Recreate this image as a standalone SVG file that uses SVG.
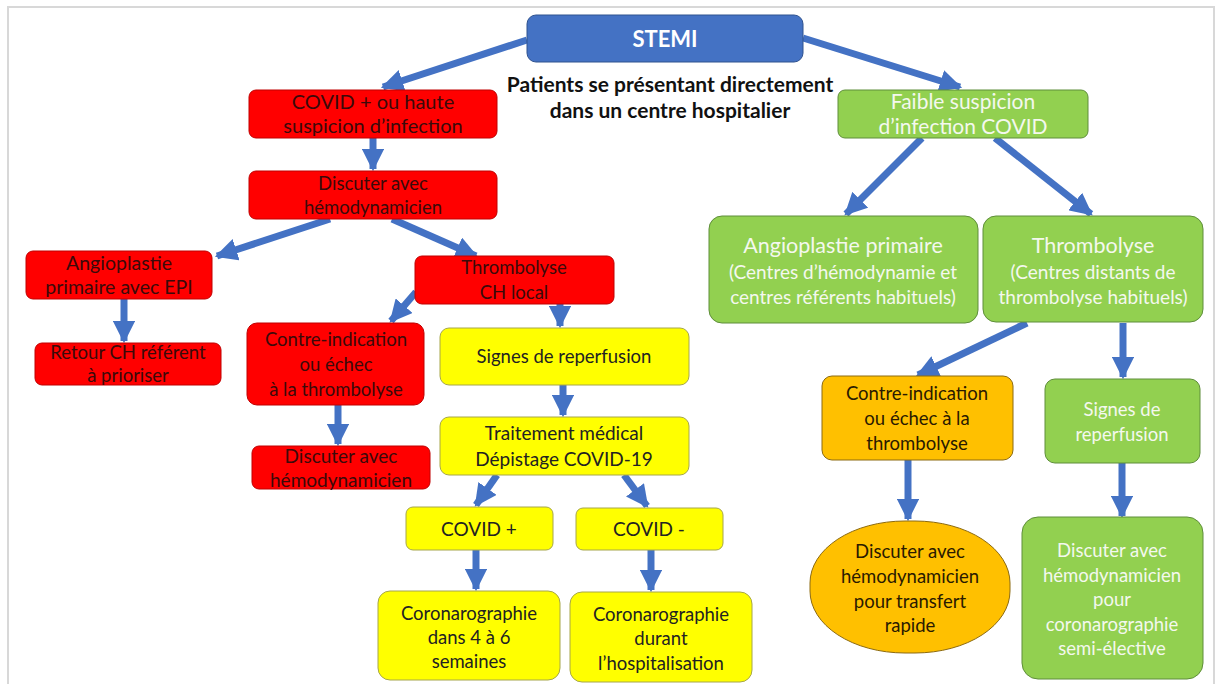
<svg xmlns="http://www.w3.org/2000/svg" width="1221" height="684" viewBox="0 0 1221 684">
<defs>
<marker id="ah" viewBox="0 0 10 10" refX="9" refY="5" markerWidth="3.2" markerHeight="3.2" orient="auto" markerUnits="strokeWidth">
<path d="M0,0 L10,5 L0,10 z" fill="#4472C4"/>
</marker>
<style>
text{font-family:Lato,"Open Sans","Liberation Sans",sans-serif;text-anchor:middle;font-size:18.5px}
text.s19{font-size:19px}
text.s195{font-size:19.5px}
text.s20{font-size:20px}
text.s21{font-size:21px}
text.s215{font-size:21.5px}
text.s22{font-size:22px}
.red rect{fill:#FF0000;stroke:#C00000;stroke-width:1}
.red text{fill:#3a0a0a}
.yel rect{fill:#FFFF00;stroke:#A6A64A;stroke-width:1}
.yel text{fill:#222}
.grn rect{fill:#92D050;stroke:#5E8E3A;stroke-width:1}
.grn text{fill:#F4F8EE}
.org rect{fill:#FFC000;stroke:#8C6A10;stroke-width:1}
.org text{fill:#2a1a00}
.cn line{stroke:#4472C4;stroke-width:7;marker-end:url(#ah)}
</style>
</defs>
<rect x="0" y="0" width="1221" height="684" fill="#fff"/>
<rect x="8" y="7" width="1206" height="690" fill="none" stroke="#d8d8d8" stroke-width="2"/>

<g class="cn">
<line x1="527" y1="40" x2="383" y2="87"/>
<line x1="803" y1="38" x2="960" y2="87"/>
<line x1="373" y1="138" x2="373" y2="169"/>
<line x1="330" y1="219" x2="217" y2="256"/>
<line x1="392" y1="219" x2="476" y2="256"/>
<line x1="124" y1="299" x2="124" y2="341"/>
<line x1="416" y1="292" x2="391" y2="321"/>
<line x1="560" y1="304" x2="560" y2="326"/>
<line x1="338" y1="405" x2="338" y2="444"/>
<line x1="563" y1="385" x2="563" y2="415"/>
<line x1="497" y1="475" x2="476" y2="505"/>
<line x1="624" y1="475" x2="647" y2="506"/>
<line x1="476" y1="550" x2="476" y2="589"/>
<line x1="651" y1="550" x2="651" y2="590"/>
<line x1="922" y1="138" x2="846" y2="214"/>
<line x1="995" y1="138" x2="1091" y2="214"/>
<line x1="1027" y1="323" x2="918" y2="375"/>
<line x1="1123" y1="323" x2="1123" y2="377"/>
<line x1="908" y1="460" x2="908" y2="519"/>
<line x1="1122" y1="463" x2="1122" y2="516"/>
</g>

<g id="stemi">
<rect x="527" y="15" width="276" height="47" rx="9" fill="#4472C4" stroke="#2F528F"/>
<text x="665" y="47" fill="#fff" font-weight="bold" class="s22">STEMI</text>
</g>
<g id="patients">
<text x="670" y="92" font-weight="bold" fill="#111" class="s21">Patients se présentant directement</text>
<text x="670" y="118" font-weight="bold" fill="#111" class="s21">dans un centre hospitalier</text>
</g>

<g id="covidplus" class="red">
<rect x="249" y="90" width="248" height="48" rx="7"/>
<text x="373" y="109" class="s20">COVID + ou haute</text>
<text x="373" y="133" class="s20">suspicion d’infection</text>
</g>
<g id="discuter1" class="red">
<rect x="249" y="171" width="248" height="48" rx="7"/>
<text x="373" y="190">Discuter avec</text>
<text x="373" y="214">hémodynamicien</text>
</g>
<g id="angioepi" class="red">
<rect x="26" y="251" width="186" height="48" rx="7"/>
<text x="119" y="270" class="s195">Angioplastie</text>
<text x="119" y="294" class="s195">primaire avec EPI</text>
</g>
<g id="retour" class="red">
<rect x="35" y="343" width="186" height="42" rx="7"/>
<text x="128" y="359">Retour CH référent</text>
<text x="128" y="382">à prioriser</text>
</g>
<g id="thrombolocal" class="red">
<rect x="415" y="256" width="199" height="48" rx="7"/>
<text x="514" y="274">Thrombolyse</text>
<text x="514" y="299">CH local</text>
</g>
<g id="contre1" class="red">
<rect x="247" y="323" width="177" height="82" rx="10"/>
<text x="336" y="346">Contre-indication</text>
<text x="336" y="371">ou échec</text>
<text x="336" y="396">à la thrombolyse</text>
</g>
<g id="discuter2" class="red">
<rect x="252" y="446" width="178" height="43" rx="7"/>
<text x="341" y="463" class="s19">Discuter avec</text>
<text x="341" y="487" class="s19">hémodynamicien</text>
</g>

<g id="signes1" class="yel">
<rect x="440" y="328" width="249" height="57" rx="9"/>
<text x="564" y="363">Signes de reperfusion</text>
</g>
<g id="traitement" class="yel">
<rect x="440" y="417" width="249" height="58" rx="9"/>
<text x="564" y="440" class="s19">Traitement médical</text>
<text x="564" y="466" class="s19">Dépistage COVID-19</text>
</g>
<g id="covidpos" class="yel">
<rect x="406" y="507" width="147" height="43" rx="7"/>
<text x="479" y="536" class="s19">COVID +</text>
</g>
<g id="covidneg" class="yel">
<rect x="576" y="508" width="147" height="42" rx="7"/>
<text x="649" y="536" class="s19">COVID -</text>
</g>
<g id="coro1" class="yel">
<rect x="378" y="591" width="182" height="89" rx="12"/>
<text x="469" y="620">Coronarographie</text>
<text x="469" y="644">dans 4 à 6</text>
<text x="469" y="668">semaines</text>
</g>
<g id="coro2" class="yel">
<rect x="570" y="592" width="182" height="90" rx="12"/>
<text x="661" y="621">Coronarographie</text>
<text x="661" y="645">durant</text>
<text x="661" y="670">l’hospitalisation</text>
</g>

<g id="faible" class="grn">
<rect x="838" y="90" width="250" height="48" rx="7"/>
<text x="963" y="109" class="s21">Faible suspicion</text>
<text x="963" y="134" class="s21">d’infection COVID</text>
</g>
<g id="angioprim" class="grn">
<rect x="709" y="216" width="269" height="107" rx="13"/>
<text x="843" y="253" class="s215">Angioplastie primaire</text>
<text x="843" y="279" class="s19">(Centres d’hémodynamie et</text>
<text x="843" y="304" class="s19">centres référents habituels)</text>
</g>
<g id="thrombo2" class="grn">
<rect x="983" y="216" width="220" height="106" rx="13"/>
<text x="1093" y="253" class="s215">Thrombolyse</text>
<text x="1093" y="279" class="s19">(Centres distants de</text>
<text x="1093" y="304" class="s19">thrombolyse habituels)</text>
</g>
<g id="contre2" class="org">
<rect x="822" y="376" width="191" height="84" rx="10"/>
<text x="917" y="400">Contre-indication</text>
<text x="917" y="425">ou échec à la</text>
<text x="917" y="450">thrombolyse</text>
</g>
<g id="signes2" class="grn">
<rect x="1045" y="379" width="155" height="84" rx="10"/>
<text x="1122" y="416">Signes de</text>
<text x="1122" y="441">reperfusion</text>
</g>
<g id="transfert" class="org">
<rect x="810" y="521" width="200" height="132" rx="95" ry="62"/>
<text x="910" y="558">Discuter avec</text>
<text x="910" y="583">hémodynamicien</text>
<text x="910" y="608">pour transfert</text>
<text x="910" y="632">rapide</text>
</g>
<g id="semi" class="grn">
<rect x="1022" y="517" width="181" height="162" rx="16"/>
<text x="1112" y="557">Discuter avec</text>
<text x="1112" y="582">hémodynamicien</text>
<text x="1112" y="606">pour</text>
<text x="1112" y="631">coronarographie</text>
<text x="1112" y="655">semi-élective</text>
</g>
</svg>
